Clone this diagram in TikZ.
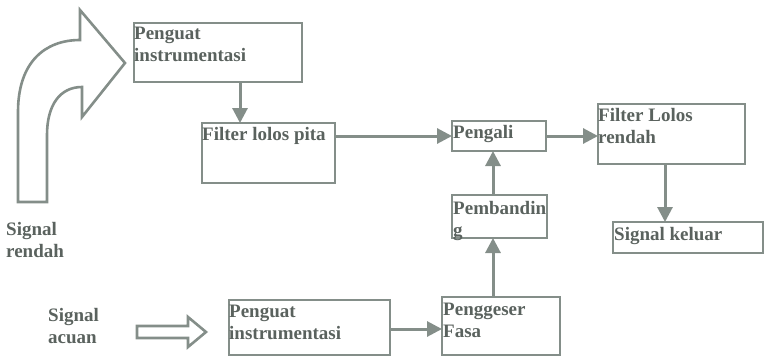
\documentclass[tikz,border=0pt]{standalone}
\usepackage{fontspec}
\setmainfont{Liberation Serif}[BoldFont={Liberation Serif Bold}]
\usetikzlibrary{arrows.meta,calc}
\definecolor{lc}{HTML}{848E89}
\definecolor{tc}{HTML}{5A625E}
\begin{document}
\begin{tikzpicture}[x=1pt,y=-1pt,
  box/.style={draw=lc, line width=2.8pt, anchor=north west, inner sep=0pt, outer sep=0pt},
  lbl/.style={anchor=north west, inner sep=0pt, align=left, text=tc,
    font=\fontsize{19}{22}\selectfont\bfseries},
  arr/.style={draw=lc, line width=3pt, -{Triangle[length=15pt,width=15pt]}, color=lc},
  hollow/.style={draw=lc, line width=2.6pt, fill=white, line join=miter}]
\useasboundingbox (0,0) rectangle (765,357);
% boxes
\node[box, minimum width=168pt, minimum height=59pt] (b1) at (134,23) {};
\node[box, minimum width=133pt, minimum height=60pt] (b2) at (202,123) {};
\node[box, minimum width=94pt, minimum height=30pt] (pg) at (452,121) {};
\node[box, minimum width=147pt, minimum height=60pt] (flr) at (598,104) {};
\node[box, minimum width=150pt, minimum height=31pt] (sk) at (613,222) {};
\node[box, minimum width=95pt, minimum height=43pt] (pb) at (452,195) {};
\node[box, minimum width=118pt, minimum height=58pt] (pf) at (442,297) {};
\node[box, minimum width=161pt, minimum height=55pt] (b3) at (229,300) {};
% texts
\node[lbl] (t1) at ($(b1.north west)+(0,4)$) {Penguat\\instrumentasi};
\node[lbl] (t2) at ($(b2.north west)+(0,4)$) {Filter lolos pita};
\node[lbl] (t3) at ($(pg.north west)+(1,4)$) {Pengali};
\node[lbl] (t4) at ($(flr.north west)+(0,4)$) {Filter Lolos\\rendah};
\node[lbl] (t5) at ($(sk.north west)+(1,5)$) {Signal keluar};
\node[lbl] (t6) at ($(pb.north west)+(1,6)$) {Pembandin\\g};
\node[lbl] (t7) at ($(pf.north west)+(1,6)$) {Penggeser\\Fasa};
\node[lbl] (t8) at ($(b3.north west)+(0,5)$) {Penguat\\instrumentasi};
\node[lbl] (t9) at (6,222) {Signal\\rendah};
\node[lbl] (t10) at (48,308) {Signal\\acuan};
% connector anchors
\coordinate (c1) at (240,0);
\coordinate (c2) at (665,0);
\coordinate (c3) at (493,0);
\coordinate (c4) at (0,329);
\draw[arr] (b1.south -| c1) -- (b2.north -| c1);
\draw[arr] (pg.west -| b2.east) -- (pg.west);
\draw[arr] (pg.east) -- (pg.east -| flr.west);
\draw[arr] (flr.south -| c2) -- (sk.north -| c2);
\draw[arr] (pb.north -| c3) -- (pg.south -| c3);
\draw[arr] (pf.north -| c3) -- (pb.south -| c3);
\draw[arr] (b3.east |- c4) -- (pf.west |- c4);
% curved hollow arrow
\draw[hollow] (18,202) -- (18,112) .. controls (18,62) and (45,40) .. (80,40)
  -- (80,10) -- (125,63) -- (82,117) -- (82,87)
  .. controls (60,87) and (47,105) .. (47,135) -- (47,202) -- cycle;
% straight hollow arrow
\draw[hollow] (137,326) -- (188,326) -- (188,317) -- (206,332) -- (188,347)
  -- (188,338) -- (137,338) -- cycle;
\end{tikzpicture}
\end{document}
